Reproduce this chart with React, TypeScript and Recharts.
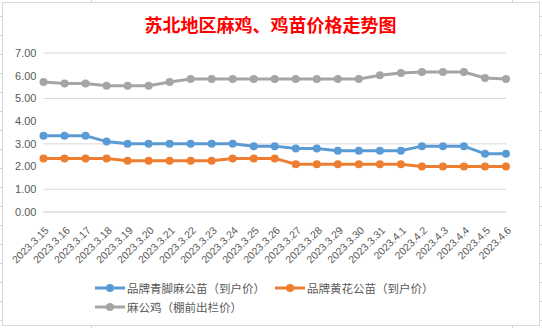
import React from "react";
import { LineChart, Line, XAxis, YAxis, CartesianGrid } from "recharts";

const categories = [
  "2023.3.15", "2023.3.16", "2023.3.17", "2023.3.18", "2023.3.19", "2023.3.20",
  "2023.3.21", "2023.3.22", "2023.3.23", "2023.3.24", "2023.3.25", "2023.3.26",
  "2023.3.27", "2023.3.28", "2023.3.29", "2023.3.30", "2023.3.31", "2023.4.1",
  "2023.4.2", "2023.4.3", "2023.4.4", "2023.4.5", "2023.4.6",
];
const blueValues = [3.36, 3.36, 3.36, 3.1, 3.0, 3.0, 3.0, 3.0, 3.0, 3.0, 2.9, 2.9, 2.8, 2.8, 2.7, 2.7, 2.7, 2.7, 2.9, 2.9, 2.9, 2.56, 2.56];
const orangeValues = [2.36, 2.36, 2.36, 2.36, 2.26, 2.26, 2.26, 2.26, 2.26, 2.36, 2.36, 2.36, 2.1, 2.1, 2.1, 2.1, 2.1, 2.1, 2.0, 2.0, 2.0, 2.0, 2.0];
const grayValues = [5.72, 5.66, 5.66, 5.56, 5.56, 5.56, 5.72, 5.86, 5.86, 5.86, 5.86, 5.86, 5.86, 5.86, 5.86, 5.86, 6.02, 6.12, 6.16, 6.16, 6.16, 5.9, 5.86];
const seriesNames = ["品牌青脚麻公苗（到户价）", "品牌黄花公苗（到户价）", "麻公鸡（棚前出栏价）"];
const seriesColors = ["#5B9BD5", "#ED7D31", "#A5A5A5"];
const yTicks = [0, 1, 2, 3, 4, 5, 6, 7];
const title = "苏北地区麻鸡、鸡苗价格走势图";

const data = categories.map((c, i) => ({
  cat: c,
  blue: blueValues[i],
  orange: orangeValues[i],
  gray: grayValues[i],
}));

const XTick = (props: any) => {
  const { x, y, payload } = props;
  return (
    <g transform={`translate(${x},${y})`}>
      <text
        x={0}
        y={0}
        textAnchor="end"
        transform="translate(6,19) rotate(-45)"
        fill="#595959"
        fontSize={10.5}
        fontFamily="'Liberation Sans', Arial, sans-serif"
      >
        {payload.value}
      </text>
    </g>
  );
};

const LegendItem = ({ left, top, color, name }: any) => (
  <div style={{ position: "absolute", left, top: top - 9, height: 18, display: "flex", alignItems: "center" }}>
    <svg width={32} height={18} style={{ display: "block" }}>
      <line x1={0} y1={9} x2={30} y2={9} stroke={color} strokeWidth={3} />
      <circle cx={15} cy={9} r={4} fill={color} />
    </svg>
    <span style={{ fontSize: 11.5, color: "#595959", fontFamily: "'Noto Sans CJK SC', sans-serif", whiteSpace: "nowrap", lineHeight: "18px" }}>
      {name}
    </span>
  </div>
);

const gridRows = Array.from({ length: 17 }, (_, k) => 16 + 19 * k);

export default function App() {
  return (
    <div style={{ position: "absolute", left: 0, top: 0, width: 542, height: 328, background: "#fff", overflow: "hidden" }}>
      {gridRows.map((gy) => (
        <div key={gy} style={{ position: "absolute", left: 0, top: gy, width: 542, height: 1, background: "#d4d4e6" }} />
      ))}
      <div style={{ position: "absolute", left: 91, top: 0, width: 1, height: 328, background: "#d4d4e6" }} />
      <div style={{ position: "absolute", left: 512, top: 0, width: 1, height: 328, background: "#d4d4e6" }} />
      <div
        style={{
          position: "absolute",
          left: 2,
          top: 2,
          width: 536,
          height: 322,
          background: "#fff",
          border: "1px solid #d9d9d9",
        }}
      />
      <div
        style={{
          position: "absolute",
          left: 0,
          top: 12,
          width: 541,
          textAlign: "center",
          color: "#FF0000",
          fontSize: 18,
          fontWeight: "bold",
          fontFamily: "'Noto Sans CJK SC', sans-serif",
          lineHeight: "24px",
        }}
      >
        {title}
      </div>
      <div style={{ position: "absolute", left: 0, top: 0 }}>
        <LineChart width={542} height={328} data={data} margin={{ top: 53, right: 36, bottom: 0, left: 0 }}>
          <CartesianGrid vertical={false} stroke="#d9d9d9" strokeWidth={1} />
          <XAxis
            dataKey="cat"
            interval={0}
            height={116}
            tickLine={false}
            axisLine={{ stroke: "#d9d9d9" }}
            tickSize={0}
            tickMargin={0}
            tick={<XTick />}
          />
          <YAxis
            domain={[0, 7]}
            ticks={yTicks}
            width={43.5}
            axisLine={false}
            tickLine={false}
            tickMargin={1}
            tickFormatter={(v: number) => v.toFixed(2)}
            tick={{ fill: "#595959", fontSize: 11, fontFamily: "'Liberation Sans', Arial, sans-serif" }}
          />
          <Line dataKey="blue" name={seriesNames[0]} stroke={seriesColors[0]} strokeWidth={3} dot={{ r: 4, fill: seriesColors[0], stroke: seriesColors[0], strokeWidth: 0 }} isAnimationActive={false} />
          <Line dataKey="orange" name={seriesNames[1]} stroke={seriesColors[1]} strokeWidth={3} dot={{ r: 4, fill: seriesColors[1], stroke: seriesColors[1], strokeWidth: 0 }} isAnimationActive={false} />
          <Line dataKey="gray" name={seriesNames[2]} stroke={seriesColors[2]} strokeWidth={3} dot={{ r: 4, fill: seriesColors[2], stroke: seriesColors[2], strokeWidth: 0 }} isAnimationActive={false} />
        </LineChart>
      </div>
      <LegendItem left={95} top={288} color={seriesColors[0]} name={seriesNames[0]} />
      <LegendItem left={275} top={288} color={seriesColors[1]} name={seriesNames[1]} />
      <LegendItem left={95} top={307} color={seriesColors[2]} name={seriesNames[2]} />
    </div>
  );
}
